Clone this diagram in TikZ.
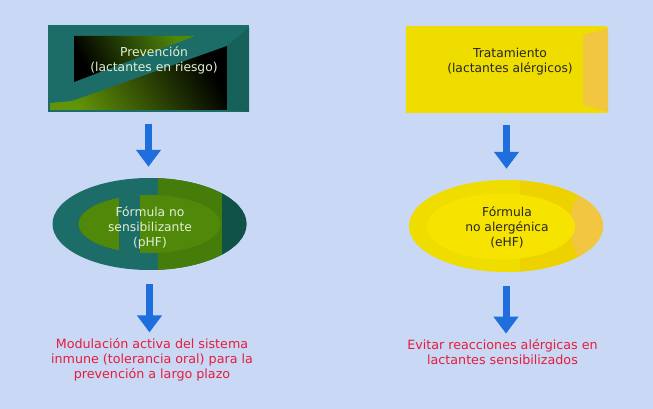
\documentclass[tikz,border=0pt]{standalone}
\usepackage{fontspec}
\setmainfont{DejaVu Sans}
\usetikzlibrary{arrows.meta,shapes.geometric}

\definecolor{bgblue}{RGB}{200,216,245}
\definecolor{tealbox}{RGB}{28,108,104}
\definecolor{tealdark}{RGB}{14,82,72}
\definecolor{leafgreen}{RGB}{80,136,10}
\definecolor{leafdark}{RGB}{70,124,10}
\definecolor{textpale}{RGB}{226,240,212}
\definecolor{yellowbox}{RGB}{240,221,0}
\definecolor{yellowlight}{RGB}{246,228,0}
\definecolor{yellowdeep}{RGB}{238,210,0}
\definecolor{goldside}{RGB}{242,198,64}
\definecolor{arrowblue}{RGB}{30,110,222}
\definecolor{textred}{RGB}{232,28,60}

\begin{document}
\begin{tikzpicture}
  [x=1pt,y=-1pt,
   every node/.style={font=\fontsize{12.3}{15}\selectfont,align=center,inner sep=0pt},
   caja/.style={rectangle,minimum width=201pt,minimum height=87pt},
   ovalo/.style={ellipse,minimum width=194pt,minimum height=92pt},
   rojo/.style={text=textred,font=\fontsize{12.7}{15}\selectfont},
   flecha/.style={arrowblue,line width=7pt,-{Triangle[width=24pt,length=17pt]}}]
  \fill[bgblue] (0,0) rectangle (653,409);
  \useasboundingbox (0,0) rectangle (653,409);

  % left column
  \node[caja,fill=tealbox] (prev) at (148.5,68.5) {};
  \shade[bottom color=black,top color=leafgreen,shading angle=-60] (74,36) -- (195,36) -- (74,82) -- cycle;
  \shade[top color=black,bottom color=leafgreen!90!yellow,shading angle=-60] (50,110) -- (50,103) -- (72,101) -- (227,46) -- (227,110) -- cycle;
  \fill[tealdark!40!tealbox] (227,46) -- (249,27) -- (249,112) -- (227,110) -- cycle;
  \node[text=textpale] (prevtxt) at (154,60) {Prevención\\(lactantes en riesgo)};

  \node[ovalo,fill=tealbox] (phf) at (149.5,224) {};
  \begin{scope}
    \clip (phf.center) ellipse [x radius=97,y radius=46];
    \fill[leafdark] (158,170) rectangle (222,280);
    \fill[tealdark] (222,170) rectangle (250,280);
  \end{scope}
  \fill[leafgreen] (phf.center) ellipse [x radius=71,y radius=29];
  \begin{scope}
    \clip (phf.center) ellipse [x radius=71,y radius=29];
    \fill[tealbox] (119,190) rectangle (140,260);
  \end{scope}
  \node[text=textpale] (phftxt) at (150,228) {Fórmula no\\sensibilizante\\(pHF)};

  \node[rojo] (modtxt) at (152,360) {Modulación activa del sistema\\inmune (tolerancia oral) para la\\prevención a largo plazo};

  % right column
  \node[caja,fill=yellowbox] (trat) at (506.5,70) {};
  \fill[goldside] (583,35) -- (608,28) -- (608,112) -- (583,105) -- cycle;
  \node[text=black!85] (trattxt) at (510,61.5) {Tratamiento\\(lactantes alérgicos)};

  \node[ovalo,fill=yellowbox] (ehf) at (506,226) {};
  \begin{scope}
    \clip (ehf.center) ellipse [x radius=97,y radius=46];
    \fill[yellowdeep] (520,170) rectangle (610,280);
    \fill[goldside] (600,226) ellipse [x radius=30,y radius=44];
  \end{scope}
  \fill[yellowlight] (501,226.5) ellipse [x radius=74,y radius=33];
  \node[text=black!85] (ehftxt) at (507,227) {Fórmula\\no alergénica\\(eHF)};

  \node[rojo] (evitxt) at (502.5,352.5) {Evitar reacciones alérgicas en\\lactantes sensibilizados};

  \foreach \from/\to in {prev/phf,trat/ehf}
    \draw[flecha,shorten <=11.5pt,shorten >=11pt] (\from.south) -- (\from.south |- \to.north);
  \foreach \from/\to in {phf/modtxt,ehf/evitxt}
    \draw[flecha,shorten <=14pt,shorten >=6pt] (\from.south) -- (\from.south |- \to.north);
\end{tikzpicture}
\end{document}
